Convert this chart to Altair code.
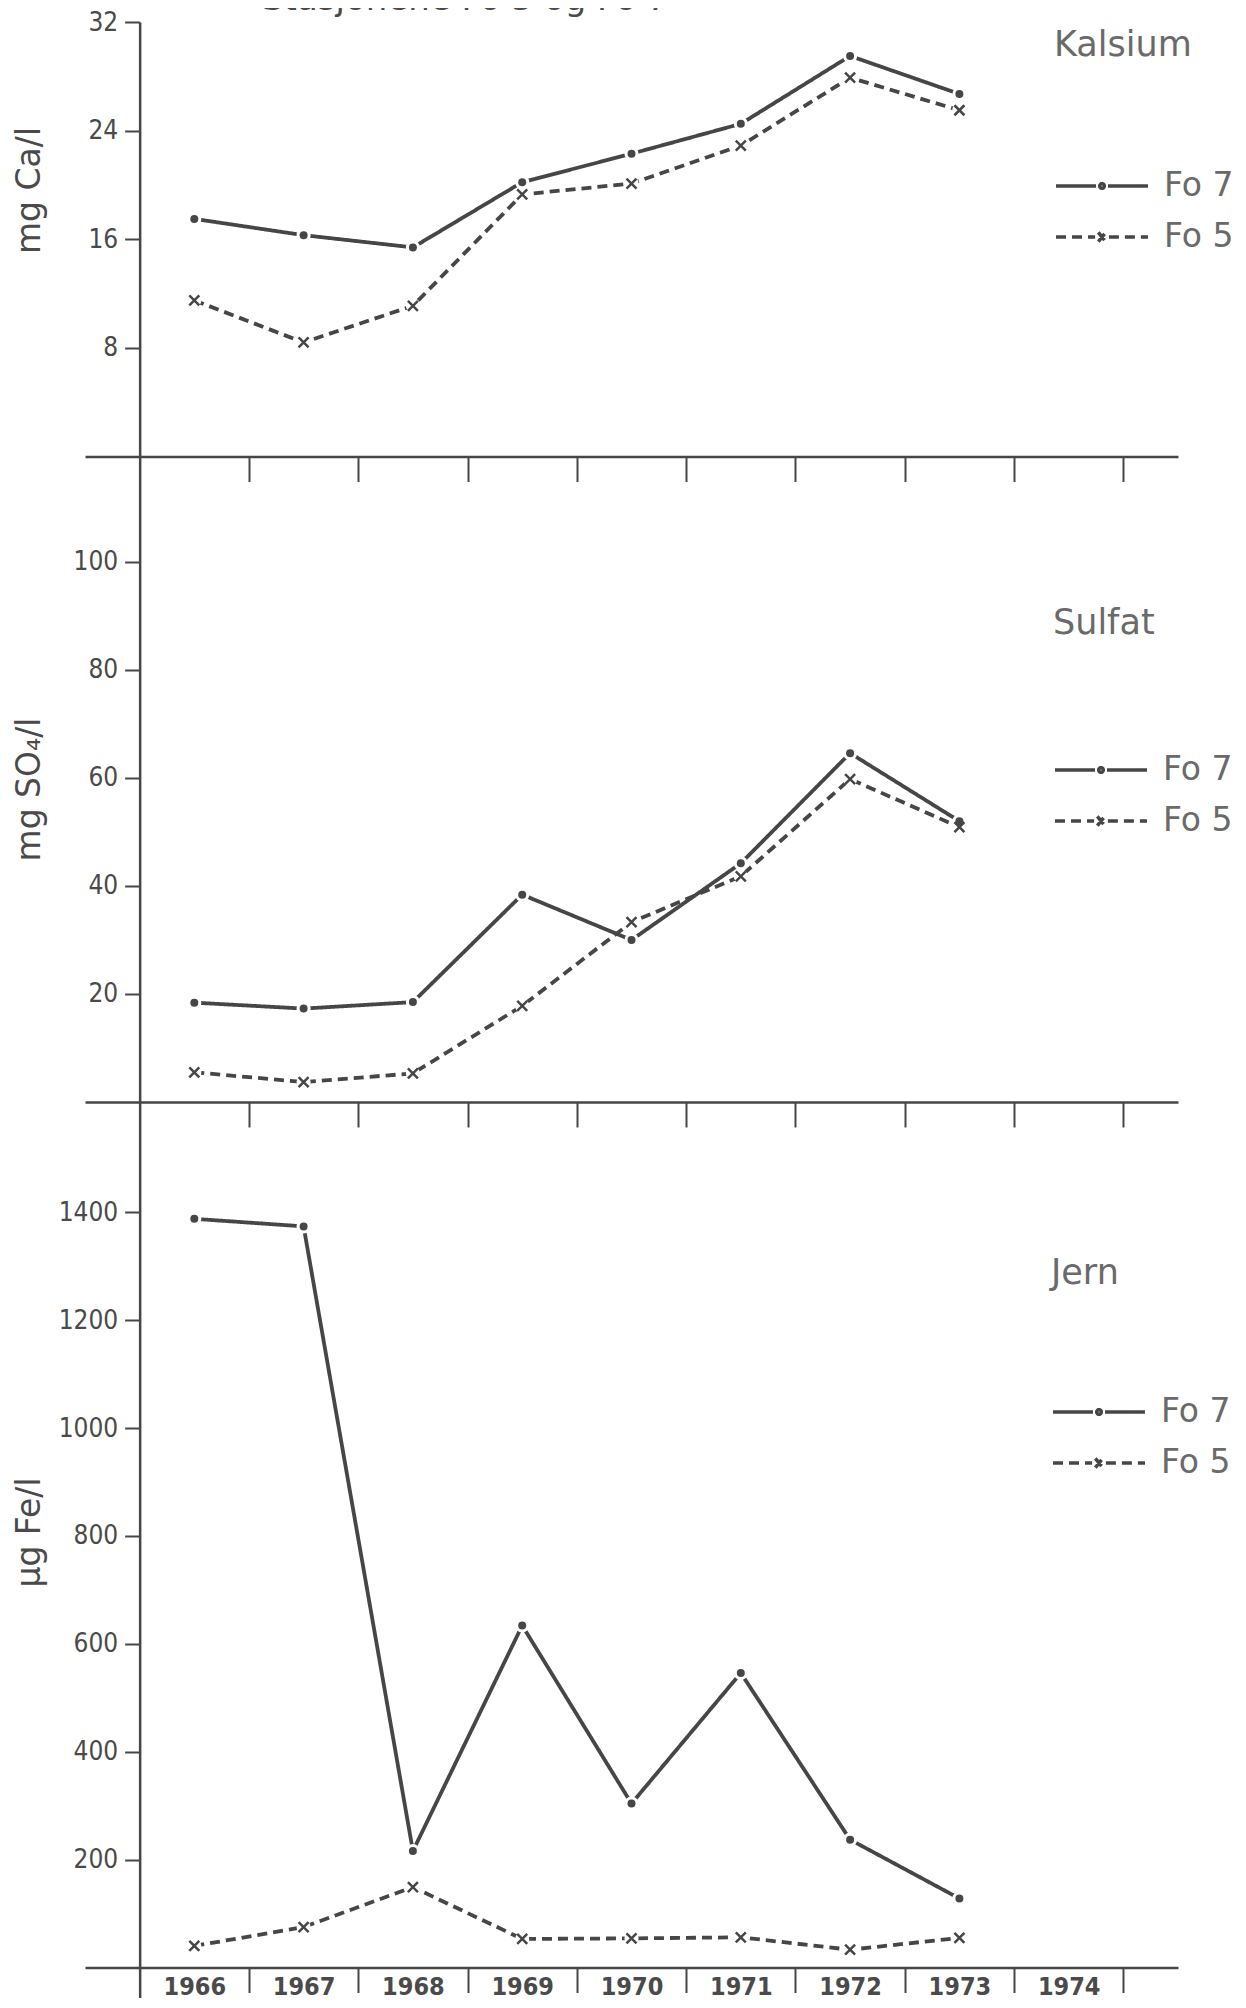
import altair as alt
import pandas as pd

# ---------------- data ----------------
years = [1966, 1967, 1968, 1969, 1970, 1971, 1972, 1973]
stations = ["Fo 7", "Fo 5"]

ca_fo7 = [17.5, 16.3, 15.4, 20.2, 22.3, 24.5, 29.5, 26.7]
ca_fo5 = [11.5, 8.4, 11.1, 19.3, 20.1, 22.9, 27.9, 25.5]

so4_fo7 = [18.4, 17.3, 18.5, 38.4, 30.0, 44.2, 64.6, 52.0]
so4_fo5 = [5.5, 3.7, 5.3, 17.8, 33.3, 41.8, 59.8, 50.9]

fe_fo7 = [1388, 1374, 216, 634, 304, 546, 237, 128]
fe_fo5 = [40, 75, 149, 53, 54, 56, 33, 55]

axis_years = [1966, 1967, 1968, 1969, 1970, 1971, 1972, 1973, 1974]
ca_ticks = [8, 16, 24, 32]
so4_ticks = [20, 40, 60, 80, 100]
fe_ticks = [200, 400, 600, 800, 1000, 1200, 1400]

title_text = "Stasjonene Fo 5 og Fo 7"

# ---------------- styling ----------------
INK = "#464646"
LABEL = "#4a4a4a"
LEGEND_TXT = "#6a6a6a"
WIDTH = 1093
HALF = WIDTH / 10 / 2

SYM7 = ("M-2,0H-0.26M0.26,0H2"
        "M0.1,0A0.1,0.1,0,1,1,-0.1,0A0.1,0.1,0,1,1,0.1,0")
SYM5 = ("M-2,0H-0.3M-0.16,-0.2L0.16,0.2M-0.16,0.2L0.16,-0.2M0.3,0H2")
XMARK = "M-1,-1L1,1M-1,1L1,-1"

dash_scale = alt.Scale(domain=stations, range=[[1, 0], [10, 6]])


def frame(fo7, fo5):
    rows = []
    for y, a, b in zip(years, fo7, fo5):
        rows.append({"year": y, "value": a, "station": "Fo 7"})
        rows.append({"year": y, "value": b, "station": "Fo 5"})
    return pd.DataFrame(rows)


def panel(df, ydomain, height, yticks, ytitle, title_y, leg_title, lx, ly,
          tpad, rpad, bottom, xoff):
    xaxis = alt.Axis(values=axis_years, format="d", title=None, grid=False,
                     tickOffset=HALF, labelOffset=-HALF, tickSize=25,
                     tickWidth=2, tickColor=INK, domainColor=INK,
                     domainWidth=2.5, labels=bottom,
                     labelFont="DejaVu Sans Condensed", labelFontSize=25,
                     labelFontWeight="bold", labelColor=LABEL,
                     labelPadding=-18, labelBaseline="top",
                     labelFlush=False, labelOverlap=False, offset=xoff)
    yaxis = alt.Axis(values=yticks, format="d", orient="left", offset=-HALF,
                     grid=False, tickSize=15, tickWidth=2, tickColor=INK,
                     domainColor=INK, domainWidth=2.5,
                     labelFont="DejaVu Sans Condensed", labelFontSize=26,
                     labelColor=LABEL, labelPadding=7, labelFlush=False,
                     labelOverlap=False, title=ytitle, titleFont="DejaVu Sans",
                     titleFontSize=33, titleFontWeight="normal",
                     titleColor=LABEL, titleX=-110, titleY=title_y,
                     titleAngle=270, titleAlign="center",
                     titleBaseline="middle")
    xs = alt.Scale(domain=[1965, 1975], nice=False, zero=False)
    ys = alt.Scale(domain=ydomain, nice=False, zero=False)
    legend = alt.Legend(title=leg_title, orient="none", legendX=lx,
                        legendY=ly, direction="vertical", padding=0,
                        titleFont="DejaVu Sans", titleFontSize=35,
                        titleFontWeight="normal", titleColor=LEGEND_TXT,
                        titlePadding=tpad, titleAlign="left",
                        labelFont="DejaVu Sans", labelFontSize=33,
                        labelColor=LEGEND_TXT, labelOffset=37,
                        rowPadding=rpad, symbolSize=2116,
                        symbolStrokeWidth=3.5, symbolStrokeColor=INK,
                        symbolFillColor=INK, symbolOffset=23, labelLimit=300)

    base = alt.Chart(df)
    line = base.mark_line(color=INK, strokeWidth=3.8, strokeCap="butt").encode(
        x=alt.X("year:Q", scale=xs, axis=xaxis),
        y=alt.Y("value:Q", scale=ys, axis=yaxis),
        strokeDash=alt.StrokeDash("station:N", scale=dash_scale, legend=legend),
    )
    halo = base.mark_circle(size=200, color="white", opacity=1).encode(
        x="year:Q", y="value:Q")
    dots = base.transform_filter(alt.datum.station == "Fo 7").mark_circle(
        size=64, color=INK, opacity=1).encode(x="year:Q", y="value:Q")
    crosses = base.transform_filter(alt.datum.station == "Fo 5").mark_point(
        shape=XMARK, size=100, filled=False, color=INK, strokeWidth=2.5,
        opacity=1).encode(x="year:Q", y="value:Q")
    leg = base.transform_filter("false").mark_point(
        filled=False, color=INK, opacity=1).encode(
        x="year:Q", y="value:Q",
        shape=alt.Shape("station:N",
                        scale=alt.Scale(domain=stations, range=[SYM7, SYM5]),
                        legend=legend),
        strokeDash=alt.StrokeDash("station:N", scale=dash_scale, legend=legend),
    )
    return alt.layer(line, halo, dots, crosses, leg).properties(
        width=WIDTH, height=height)


p1 = panel(frame(ca_fo7, ca_fo5), [0, 32], 434.5, ca_ticks, "mg Ca/l", 168,
           "Kalsium", 969, 6, 98, 9, False, 0)
p2 = panel(frame(so4_fo7, so4_fo5), [0, 119.44], 645, so4_ticks, "mg SO₄/l",
           332, "Sulfat", 968, 149, 104, 9, False, 0)
p3 = panel(frame(fe_fo7, fe_fo5), [-55.6, 1604.6], 895.5, fe_ticks, "µg Fe/l",
           430, "Jern", 966, 154, 96, 9, True, -30)

chart = alt.vconcat(p1, p2, p3, spacing=0, bounds="flush").properties(
    title=alt.TitleParams(title_text, anchor="start", frame="group", dx=177,
                          dy=46, offset=11, baseline="alphabetic",
                          font="DejaVu Sans", fontSize=34, fontWeight="normal",
                          color=LABEL),
    padding={"left": 5, "top": -25, "right": 0, "bottom": 0},
    background="white",
).resolve_scale(
    y="independent", shape="independent", strokeDash="independent"
).resolve_axis(
    x="independent", y="independent"
).resolve_legend(
    shape="independent", strokeDash="independent"
).configure_view(stroke=None)

chart.save("out.html", embed_options={"renderer": "svg", "actions": False})
